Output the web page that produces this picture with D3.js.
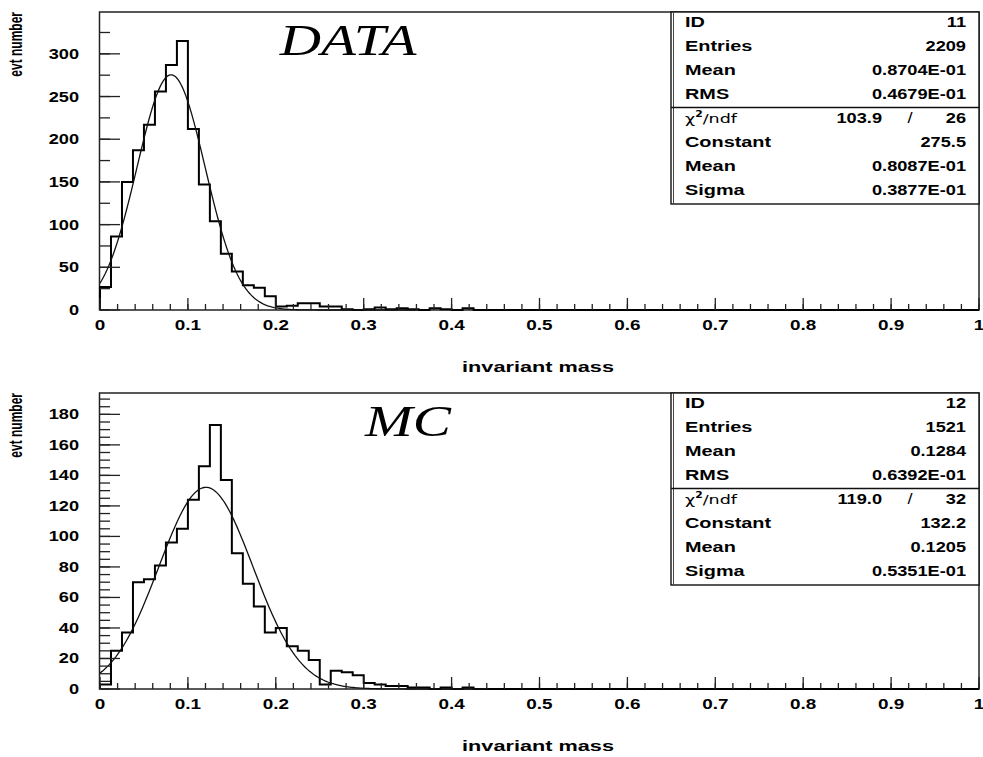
<!DOCTYPE html>
<html><head><meta charset="utf-8">
<script src="https://cdn.jsdelivr.net/npm/d3@7"></script>
<style>body{margin:0;background:#fff} svg{display:block}</style>
</head><body>
<svg id="c" width="983" height="757"></svg>
<script>
// ---------- data ----------
const binWidth = 0.0125;
const dataCounts = [27, 86, 150, 187, 217, 256, 287, 315, 212, 147, 104, 66, 45, 29, 26, 16,
  4, 5, 8, 8, 4, 4, 1, 0, 1, 3, 1, 2, 1, 0, 2, 1, 0, 2, 0, 0];
const mcCounts = [3, 25, 37, 70, 72, 81, 96, 105, 124, 146, 173, 137, 89, 69, 54, 37,
  40, 28, 25, 19, 3, 12, 11, 9, 4, 3, 2, 2, 1, 1, 0, 1, 0, 1, 0, 0];
const xTickValues = [0, 0.1, 0.2, 0.3, 0.4, 0.5, 0.6, 0.7, 0.8, 0.9, 1];
const xTickLabels = ["0", "0.1", "0.2", "0.3", "0.4", "0.5", "0.6", "0.7", "0.8", "0.9", "1"];
const dataYTicks = [0, 50, 100, 150, 200, 250, 300];
const mcYTicks = [0, 20, 40, 60, 80, 100, 120, 140, 160, 180];
const statLabels = ["ID", "Entries", "Mean", "RMS"];
const fitLabels = ["Constant", "Mean", "Sigma"];
const dataStatValues = ["11", "2209", "0.8704E-01", "0.4679E-01"];
const dataChi2 = ["103.9", "26"];
const dataFitValues = ["275.5", "0.8087E-01", "0.3877E-01"];
const dataFitParams = [275.5, 0.08087, 0.03877];
const mcStatValues = ["12", "1521", "0.1284", "0.6392E-01"];
const mcChi2 = ["119.0", "32"];
const mcFitValues = ["132.2", "0.1205", "0.5351E-01"];
const mcFitParams = [132.2, 0.1205, 0.05351];
const titles = ["DATA", "MC"];
const xLabel = "invariant mass";
const yLabel = "evt number";

// ---------- drawing ----------
const svg = d3.select("#c");
const SX = 1.38; // horizontal stretch of the reference text
const SANS = "'Liberation Sans', Arial, sans-serif";

function stext(g, x, y, str, o) {
  o = o || {};
  return g.append("text")
    .attr("transform", `translate(${x},${y}) scale(${o.sx || SX},1)`)
    .attr("text-anchor", o.anchor || "start")
    .attr("font-family", o.family || SANS)
    .attr("font-size", o.size || 14)
    .attr("font-weight", o.weight || "bold")
    .attr("font-style", o.style || "normal")
    .attr("fill", "#000")
    .text(str);
}

function panel(cfg) {
  const g = svg.append("g");
  const x = d3.scaleLinear().domain([0, 1]).range([100, 979]);
  const y = d3.scaleLinear().domain([0, cfg.ymax]).range([cfg.bottom, cfg.top]);

  // frame
  g.append("rect").attr("x", 99.5).attr("y", cfg.top).attr("width", 879.5)
    .attr("height", cfg.bottom - cfg.top).attr("fill", "none")
    .attr("stroke", "#222").attr("stroke-width", 1.5);

  // histogram
  const pts = [[0, 0]];
  cfg.counts.forEach((c, i) => pts.push([i * binWidth, c]));
  const n = cfg.counts.length;
  pts.push([n * binWidth, cfg.counts[n - 1]]);
  pts.push([n * binWidth, 0]);
  pts.push([1, 0]);
  g.append("path").datum(pts)
    .attr("d", d3.line().x(d => x(d[0])).y(d => y(d[1])).curve(d3.curveStepAfter))
    .attr("fill", "none").attr("stroke", "#000").attr("stroke-width", 2);

  // gaussian fit from displayed parameters
  const [A, mu, s] = cfg.fit;
  const fx = d3.range(0, cfg.fitEnd + 1e-9, 0.002);
  g.append("path").datum(fx)
    .attr("d", d3.line().x(v => x(v)).y(v => y(A * Math.exp(-0.5 * ((v - mu) / s) ** 2))))
    .attr("fill", "none").attr("stroke", "#111").attr("stroke-width", 1.3);

  // x ticks
  const minor = d3.range(0, 1.0001, 0.02);
  g.selectAll(null).data(minor).join("line")
    .attr("x1", d => x(d)).attr("x2", d => x(d))
    .attr("y1", cfg.bottom).attr("y2", cfg.bottom - 6)
    .attr("stroke", "#222").attr("stroke-width", 1.3);
  g.selectAll(null).data(xTickValues).join("line")
    .attr("x1", d => x(d)).attr("x2", d => x(d))
    .attr("y1", cfg.bottom).attr("y2", cfg.bottom - 12)
    .attr("stroke", "#222").attr("stroke-width", 1.3);
  xTickValues.forEach((v, i) => {
    stext(g, x(v), cfg.bottom + 20, xTickLabels[i], { anchor: "middle", size: 14, sx: 1.35 });
  });

  // y ticks
  const yMinor = d3.range(0, cfg.ymax, cfg.minorStep);
  g.selectAll(null).data(yMinor).join("line")
    .attr("x1", 100).attr("x2", 110)
    .attr("y1", d => y(d)).attr("y2", d => y(d))
    .attr("stroke", "#222").attr("stroke-width", 1.3);
  g.selectAll(null).data(cfg.yTicks).join("line")
    .attr("x1", 100).attr("x2", 120)
    .attr("y1", d => y(d)).attr("y2", d => y(d))
    .attr("stroke", "#222").attr("stroke-width", 1.3);
  cfg.yTicks.forEach(v => {
    stext(g, 79, y(v) + 5, String(v), { anchor: "end", size: 14, sx: 1.3 });
  });

  // axis titles
  stext(g, 538, cfg.bottom + 62, xLabel, { anchor: "middle", size: 14, sx: 1.55 });
  g.append("text")
    .attr("transform", `translate(22,${cfg.top}) scale(1.55,1) rotate(-90)`)
    .attr("text-anchor", "end")
    .attr("font-family", SANS).attr("font-size", 12).attr("font-weight", "bold")
    .text(yLabel);

  // title
  stext(g, cfg.titleX, cfg.top + 43, cfg.title, {
    anchor: "middle", size: 44, family: "'Liberation Serif', 'Times New Roman', serif",
    style: "italic", weight: "normal", sx: 1.3
  });

  // stats box
  const bx = 671, bw = 308, bt = cfg.top, rowH = 24;
  g.append("rect").attr("x", bx).attr("y", bt).attr("width", bw).attr("height", rowH * 8)
    .attr("fill", "#fff").attr("stroke", "#111").attr("stroke-width", 1.4);
  g.append("line").attr("x1", bx + 2.5).attr("x2", bx + 2.5).attr("y1", bt).attr("y2", bt + rowH * 8)
    .attr("stroke", "#444").attr("stroke-width", 1);
  g.append("line").attr("x1", bx).attr("x2", bx + bw)
    .attr("y1", bt + rowH * 4 - 0.5).attr("y2", bt + rowH * 4 - 0.5)
    .attr("stroke", "#111").attr("stroke-width", 1.4);
  const base = i => bt + 15 + rowH * i;
  const lab = { size: 14, sx: 1.42 }, val = { anchor: "end", size: 14, sx: 1.3 };
  statLabels.forEach((t, i) => {
    stext(g, bx + 14, base(i), t, lab);
    stext(g, 966, base(i), cfg.stats[i], val);
  });
  // chi2 row
  const chiT = g.append("text")
    .attr("transform", `translate(${bx + 14},${base(4)}) scale(1.35,1)`)
    .attr("font-family", "'DejaVu Sans', sans-serif").attr("font-size", 13).attr("fill", "#000");
  chiT.append("tspan").text("χ");
  chiT.append("tspan").attr("font-size", 8).attr("dy", -6).attr("font-weight", "bold").text("2");
  chiT.append("tspan").attr("dy", 6).text("/ndf");
  stext(g, 882, base(4), cfg.chi2[0], val);
  stext(g, 910, base(4), "/", { anchor: "middle", size: 14, weight: "normal", sx: 1.3 });
  stext(g, 966, base(4), cfg.chi2[1], val);
  fitLabels.forEach((t, i) => {
    stext(g, bx + 14, base(5 + i), t, lab);
    stext(g, 966, base(5 + i), cfg.fitVals[i], val);
  });
}

panel({ top: 12, bottom: 310, ymax: 349, counts: dataCounts, fit: dataFitParams, fitEnd: 0.36,
  yTicks: dataYTicks, minorStep: 25, title: titles[0], titleX: 348,
  stats: dataStatValues, chi2: dataChi2, fitVals: dataFitValues });
panel({ top: 393, bottom: 689, ymax: 194, counts: mcCounts, fit: mcFitParams, fitEnd: 0.44,
  yTicks: mcYTicks, minorStep: 5, title: titles[1], titleX: 408,
  stats: mcStatValues, chi2: mcChi2, fitVals: mcFitValues });
</script>
</body></html>
